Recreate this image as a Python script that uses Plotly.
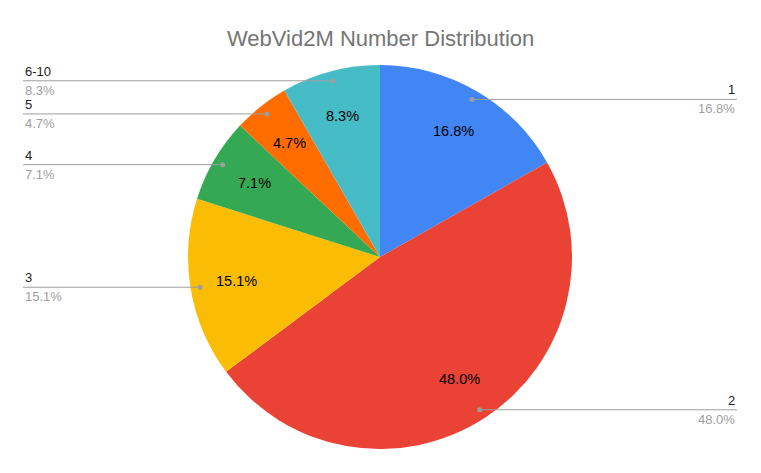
import math
import plotly.graph_objects as go

# slice data, clockwise from 12 o'clock
labels = ['1', '2', '3', '4', '5', '6-10']
shares = [16.8, 48.0, 15.1, 7.1, 4.7, 8.3]
colors = ['#4285F4', '#EA4335', '#FBBC04', '#34A853', '#FF6D01', '#46BDC6']
title = 'WebVid2M Number Distribution'

W, H = 761, 473
FONT = 'Liberation Sans, Arial, sans-serif'

# pie box in pixels (left, top, right, bottom)
pie_box = (188, 65, 572, 449)
cx = (pie_box[0] + pie_box[2]) / 2
cy = (pie_box[1] + pie_box[3]) / 2
R = (pie_box[2] - pie_box[0]) / 2


def px(x):
    return x / W


def py(y):
    return 1 - y / H


def polar(frac, r):
    # angle measured clockwise from top
    a = 2 * math.pi * frac
    return cx + r * math.sin(a), cy - r * math.cos(a)


fig = go.Figure(go.Pie(
    labels=labels, values=shares, sort=False, direction='clockwise', rotation=0,
    marker=dict(colors=colors, line=dict(width=0)),
    textinfo='none', hoverinfo='label+percent',
    domain=dict(x=[px(pie_box[0]), px(pie_box[2])], y=[py(pie_box[3]), py(pie_box[1])]),
))

annotations = [dict(
    text=title, x=px(cx), y=py(38), xref='paper', yref='paper', showarrow=False,
    xanchor='center', yanchor='middle', font=dict(family=FONT, size=22, color='#757575'),
)]
shapes = []

total = sum(shares)
start = 0.0
for lab, val in zip(labels, shares):
    mid = (start + val / 2) / total
    start += val

    # percentage inside the slice
    tx, ty = polar(mid, 0.76 * R)
    annotations.append(dict(
        text=f'{val:.1f}%', x=px(tx), y=py(ty), xref='paper', yref='paper', showarrow=False,
        xanchor='center', yanchor='middle', font=dict(family=FONT, size=14.5, color='#000000'),
    ))

    # leader line + outside label
    dx, dy = polar(mid, 0.95 * R)
    right = mid < 0.5
    ex = 737 if right else 23
    shapes.append(dict(type='line', xref='paper', yref='paper',
                       x0=px(dx), y0=py(dy), x1=px(ex), y1=py(dy),
                       line=dict(color='#9e9e9e', width=1)))
    shapes.append(dict(type='circle', xref='paper', yref='paper',
                       x0=px(dx - 2.5), x1=px(dx + 2.5), y0=py(dy + 2.5), y1=py(dy - 2.5),
                       fillcolor='#9e9e9e', line=dict(width=0)))
    anchor = 'right' if right else 'left'
    annotations.append(dict(
        text=lab, x=px(ex), y=py(dy - 9.5), xref='paper', yref='paper', showarrow=False,
        xanchor=anchor, yanchor='middle', font=dict(family=FONT, size=13, color='#222222'),
    ))
    annotations.append(dict(
        text=f'{val:.1f}%', x=px(ex), y=py(dy + 9.5), xref='paper', yref='paper', showarrow=False,
        xanchor=anchor, yanchor='middle', font=dict(family=FONT, size=13, color='#a0a0a0'),
    ))

fig.update_layout(
    width=W, height=H,
    margin=dict(l=0, r=0, t=0, b=0),
    paper_bgcolor='white', plot_bgcolor='white',
    showlegend=False,
    annotations=annotations,
    shapes=shapes,
)

# drop the default body margin so the figure sits flush in the window
fig.write_html('out.html', config={'displayModeBar': False},
               post_script="document.body.style.margin='0';")
